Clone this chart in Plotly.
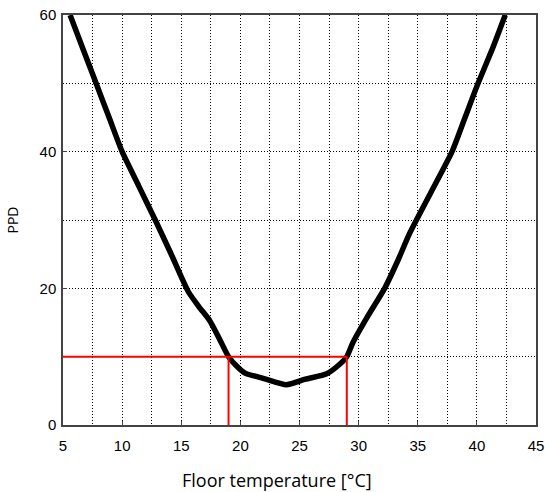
import plotly.graph_objects as go

floor_temp = [5.6, 6.7, 7.8, 8.9, 10.0, 11.4, 12.8, 14.2, 15.6, 16.5, 17.4, 18.2, 19.0, 19.7, 20.4, 22.0, 23.9, 25.5, 27.3, 28.2, 29.0, 29.5, 30.8, 32.2, 33.3, 34.3, 36.1, 37.9, 39.0, 40.1, 41.3, 42.4]
ppd = [60, 55, 50, 45, 40, 35, 30, 24.8, 19.5, 17.3, 15.3, 12.7, 10, 8.6, 7.6, 6.8, 5.9, 6.7, 7.5, 8.6, 10, 12, 16, 20, 24, 28, 34, 40, 45, 50, 55, 60]

limit_ppd = 10
limit_low = 19
limit_high = 29

fig = go.Figure()
fig.add_trace(go.Scatter(x=floor_temp, y=ppd, mode="lines",
                         line=dict(color="black", width=5.5, shape="spline", smoothing=0.6),
                         showlegend=False))
fig.add_trace(go.Scatter(x=[5, limit_high], y=[limit_ppd, limit_ppd], mode="lines",
                         line=dict(color="#ff0000", width=2), showlegend=False))
fig.add_trace(go.Scatter(x=[limit_low, limit_low], y=[0, limit_ppd], mode="lines",
                         line=dict(color="#ff0000", width=2), showlegend=False))
fig.add_trace(go.Scatter(x=[limit_high, limit_high], y=[0, limit_ppd], mode="lines",
                         line=dict(color="#ff0000", width=2), showlegend=False))

grid_dash = "1px,2px"
axis_common = dict(showline=True, linecolor="#444", linewidth=1.5, mirror=True,
                   showgrid=True, gridcolor="black", griddash=grid_dash, gridwidth=1,
                   zeroline=False, ticks="inside", ticklen=4, tickcolor="#444",
                   automargin=False,
                   tickfont=dict(family="Liberation Sans, Arial", size=15, color="black"))

fig.update_layout(
    width=545, height=492,
    margin=dict(l=63, r=9, t=15, b=67),
    paper_bgcolor="white", plot_bgcolor="white",
    xaxis=dict(range=[5, 45], dtick=5, tick0=5, ticklabelstandoff=6,
               minor=dict(dtick=2.5, tick0=5, showgrid=True, gridcolor="black", griddash=grid_dash, gridwidth=1),
               **axis_common),
    yaxis=dict(range=[0, 60], dtick=20, ticklabelstandoff=2,
               minor=dict(dtick=10, showgrid=True, gridcolor="black", griddash=grid_dash, gridwidth=1),
               title=dict(text="PPD", font=dict(family="Open Sans", size=14, color="black"), standoff=18),
               **axis_common),
    annotations=[dict(text="Floor temperature [°C]", xref="paper", yref="paper",
                      x=0.452, y=-0.134, xanchor="center", yanchor="middle",
                      showarrow=False, font=dict(family="Open Sans", size=18, color="black"))],
)

fig.write_html("out.html", config={"displayModeBar": False},
               post_script="document.body.style.margin='0';document.body.style.overflow='hidden';")
